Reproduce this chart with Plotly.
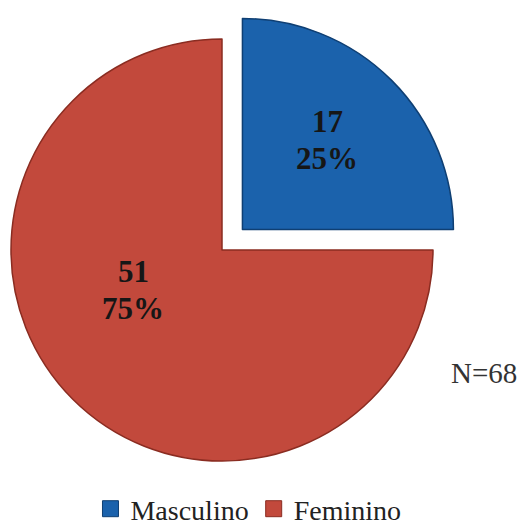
import math
import plotly.graph_objects as go

# Data
categories = ["Masculino", "Feminino"]
counts = [17, 51]
total_label = "N=68"

# Styles
fill_colors = ["#1B62AC", "#C2493C"]
edge_colors = ["#0F3F73", "#8A2C21"]
label_font = "Liberation Serif, Times New Roman, serif"

W, H = 526, 525
cx, cy, r = 222, 250, 211          # pie centre / radius in pixels
pull = 0.137                        # detach distance of the first slice (fraction of r)

total = sum(counts)
shares = [c / total for c in counts]

# Middle angle of the first slice (clockwise from 12 o'clock)
mid = math.radians(90 - shares[0] * 360 / 2)
dx, dy = pull * r * math.cos(mid), -pull * r * math.sin(mid)


def domain_at(px, py):
    return dict(x=[(px - r) / W, (px + r) / W],
                y=[1 - (py + r) / H, 1 - (py - r) / H])


def slice_trace(show_idx, px, py):
    fills = [fill_colors[i] if i == show_idx else "rgba(0,0,0,0)" for i in range(len(counts))]
    edges = [edge_colors[i] if i == show_idx else "rgba(0,0,0,0)" for i in range(len(counts))]
    return go.Pie(
        labels=categories, values=counts, sort=False, direction="clockwise",
        rotation=0, domain=domain_at(px, py), textinfo="none", hoverinfo="label+value+percent",
        marker=dict(colors=fills, line=dict(color=edges, width=1.5)),
        showlegend=False,
    )


fig = go.Figure()
fig.add_trace(slice_trace(1, cx, cy))
fig.add_trace(slice_trace(0, cx + dx, cy + dy))

# Legend entries
for name, col, edge in zip(categories, fill_colors, edge_colors):
    fig.add_trace(go.Scatter(
        x=[None], y=[None], mode="markers", name=name,
        marker=dict(symbol="square", size=16, color=col, line=dict(color=edge, width=1)),
    ))


def put_text(text, px, py, size, color, bold=False):
    fig.add_annotation(
        x=px / W, y=1 - py / H, xref="paper", yref="paper", showarrow=False,
        xanchor="center", yanchor="middle",
        text=f"<b>{text}</b>" if bold else text,
        font=dict(family=label_font, size=size, color=color),
    )


# Slice labels: count and percentage
label_pos = {"Masculino": (327, 121), "Feminino": (133, 271)}
line_gap = 37
for name, c, s in zip(categories, counts, shares):
    px, py = label_pos[name]
    put_text(str(c), px, py, 31, "#161616", bold=True)
    put_text(f"{round(s * 100)}%", px, py + line_gap, 31, "#161616", bold=True)

put_text(total_label, 484, 373, 29, "#333333")

fig.update_layout(
    width=W, height=H, margin=dict(l=0, r=0, t=0, b=0, autoexpand=False),
    paper_bgcolor="white", plot_bgcolor="white",
    xaxis=dict(visible=False), yaxis=dict(visible=False),
    legend=dict(orientation="h", x=0.172, y=16 / H, xanchor="left", yanchor="middle",
                font=dict(family=label_font, size=28, color="#222222"),
                itemwidth=30, bgcolor="rgba(0,0,0,0)"),
)

fig.write_html("out.html")
